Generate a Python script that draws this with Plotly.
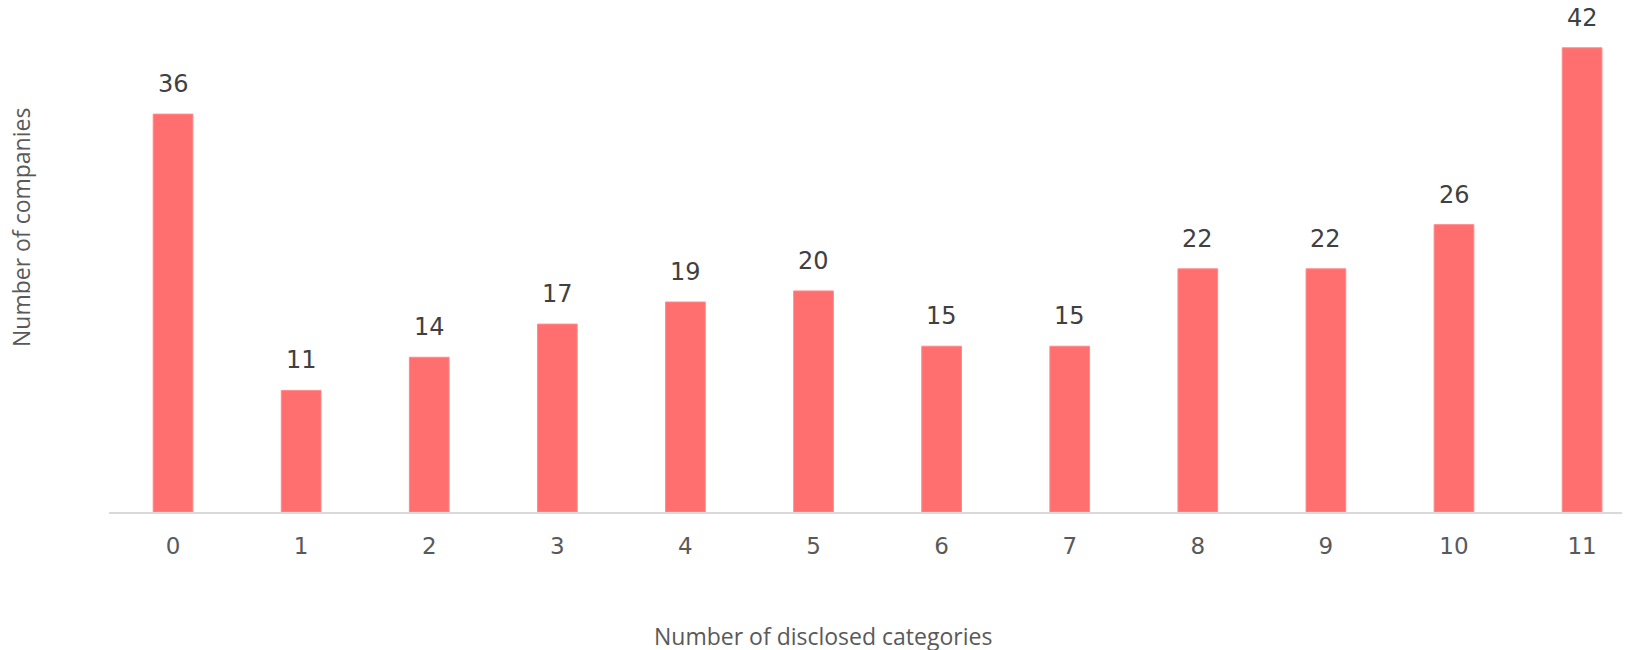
import plotly.graph_objects as go

categories = list(range(12))
tick_labels = [str(c) for c in categories]
companies = [36, 11, 14, 17, 19, 20, 15, 15, 22, 22, 26, 42]

x_title = "Number of disclosed categories"
y_title = "Number of companies"

# page body adds an 8px offset; figure is sized to fill the rest of the window
W, H = 1622, 642
ml, mr, mt, mb = 101, 0, 0, 138
pw = W - ml - mr
ph = H - mt - mb

bar_color = "#FF6F6F"

fig = go.Figure()
fig.add_trace(go.Bar(
    x=categories,
    y=companies,
    width=0.31,
    marker=dict(color=bar_color, line=dict(color="#FF8A8A", width=1)),
    hoverinfo="x+y",
))

for c, v in zip(categories, companies):
    fig.add_annotation(
        x=c, y=v, xref="x", yref="y",
        text=str(v), showarrow=False,
        yanchor="middle", yshift=30,
        font=dict(family="DejaVu Sans", size=24, color="#404040"),
    )

# axis titles as annotations placed in paper coords (figure pixel targets)
fig.add_annotation(
    x=(815 - ml) / pw, y=-(628 - (H - mb)) / ph,
    xref="paper", yref="paper", text=x_title, showarrow=False,
    xanchor="center", yanchor="middle",
    font=dict(family="Open Sans", size=23, color="#595959"),
)
fig.add_annotation(
    x=(13 - ml) / pw, y=1 - (220 - mt) / ph,
    xref="paper", yref="paper", text=y_title, showarrow=False,
    textangle=-90, xanchor="center", yanchor="middle",
    font=dict(family="Open Sans", size=23, color="#595959"),
)

fig.update_layout(
    width=W, height=H,
    margin=dict(l=ml, r=mr, t=mt, b=mb, pad=0),
    paper_bgcolor="white", plot_bgcolor="white",
    showlegend=False,
    xaxis=dict(
        tickmode="array", tickvals=categories, ticktext=tick_labels,
        range=[-0.5, 11.374],
        showline=True, linecolor="#D9D9D9", linewidth=2,
        showgrid=False, zeroline=False, ticks="",
        ticklabelstandoff=12,
        tickfont=dict(family="DejaVu Sans", size=23, color="#595959"),
    ),
    yaxis=dict(
        range=[0, 45.6], visible=False, showgrid=False, zeroline=False,
    ),
)

fig.write_html("out.html")
